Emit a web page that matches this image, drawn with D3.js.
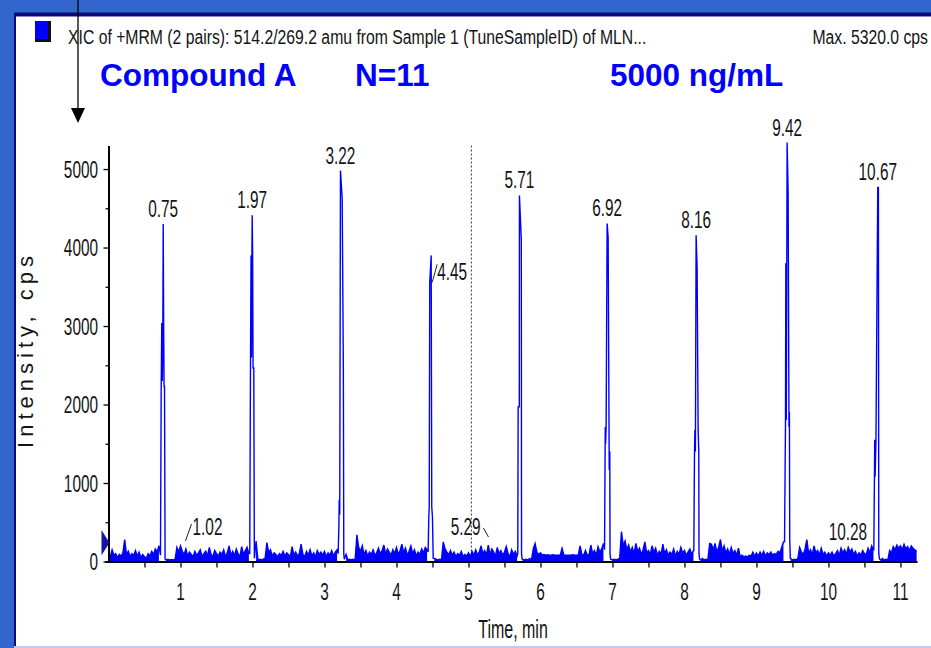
<!DOCTYPE html>
<html>
<head>
<meta charset="utf-8">
<script src="https://cdn.jsdelivr.net/npm/d3@7"></script>
<style>
  html, body { margin: 0; padding: 0; background: #3366cc; overflow: hidden; }
  svg { display: block; }
  text { font-family: "Liberation Sans", Arial, sans-serif; fill: #141414; }
</style>
</head>
<body>
<svg id="chart" width="931" height="648"></svg>
<script>
// noise between the peaks, one array per minute, one value every 0.025 min (null = peak there)
const noiseStep = 0.025;
const noiseMin0 = [120,60,150,80,100,50,90,70,110,280,90,130,60,100,80,140,70,120,50,90,60,40,100,70,130,90,160,120,200,80,null,null,20,30,20,25,20,30,180,120];
const noiseMin1 = [200,130,90,160,70,120,90,60,130,80,110,150,60,100,130,70,180,90,60,140,100,70,120,90,150,60,110,200,80,130,70,160,100,60,190,90,140,180,100,null];
const noiseMin2 = [null,null,260,20,30,20,30,40,240,120,150,70,110,90,60,100,80,130,70,110,90,60,190,80,120,70,100,220,90,60,130,80,150,70,110,60,140,90,120,80];
const noiseMin3 = [130,60,110,80,140,70,120,150,null,null,null,40,90,20,30,20,30,20,340,180,130,200,90,140,70,120,90,150,80,110,170,100,140,210,90,160,120,80,150,100];
const noiseMin4 = [180,90,140,220,110,170,80,130,200,100,150,70,120,90,160,110,180,150,null,null,null,40,30,20,30,20,250,160,120,90,140,80,120,60,100,80,130,60,90,70];
const noiseMin5 = [110,60,130,80,150,90,120,200,100,140,80,210,90,160,120,70,180,100,140,80,120,190,100,60,150,90,130,70,null,null,30,20,30,20,40,20,160,230,120,90];
const noiseMin6 = [110,80,90,80,85,80,80,85,80,80,80,80,170,85,80,80,80,80,85,80,80,80,200,90,80,140,80,90,210,100,140,80,190,120,160,230,null,null,null,30];
const noiseMin7 = [20,30,20,30,40,380,200,260,150,210,120,180,100,230,130,170,90,150,250,110,140,90,200,120,170,80,130,90,220,100,150,80,120,90,160,70,130,90,180,110];
const noiseMin8 = [140,80,120,160,90,140,null,null,null,20,40,20,30,20,230,220,150,230,120,180,280,130,200,110,160,90,180,100,140,80,170,60,80,60,70,60,80,70,120,70];
const noiseMin9 = [110,70,120,80,130,70,110,90,120,80,100,90,130,110,180,250,null,null,null,40,20,30,20,40,180,120,90,160,280,100,150,90,200,110,140,80,170,90,120,70];
const noiseMin10 = [110,80,120,70,100,140,80,170,110,150,90,180,120,160,90,130,70,110,80,140,100,90,170,110,200,150,null,null,null,20,40,20,30,20,140,110,190,150,210,170];
const noiseMin11 = [200,150,220,160,190,140,200,170,150,130];

// peaks: [time, intensity] points
const peak075 = [[0.722,80],[0.732,2230],[0.740,3040],[0.748,2300],[0.755,3000],[0.760,4300],[0.766,3040],[0.772,2230],[0.778,2230],[0.786,30]];
const peak197 = [[1.962,100],[1.972,2465],[1.980,3900],[1.986,2600],[1.992,3900],[1.996,4410],[2.002,3900],[2.008,2465],[2.018,2465],[2.026,40]];
const peak322 = [[3.190,100],[3.200,445],[3.205,788],[3.212,600],[3.222,4980],[3.246,4625],[3.262,2465],[3.268,100],[3.275,30]];
const peak445 = [[4.440,120],[4.449,570],[4.455,700],[4.462,3545],[4.482,3900],[4.490,700],[4.500,560],[4.510,40]];
const peak571 = [[5.685,100],[5.690,1970],[5.706,1970],[5.708,4663],[5.734,4090],[5.737,100],[5.745,30]];
const peak692 = [[6.890,150],[6.900,1715],[6.905,1500],[6.912,1715],[6.926,4307],[6.940,4130],[6.955,1170],[6.963,1400],[6.966,100],[6.975,30]];
const peak816 = [[8.130,130],[8.139,1334],[8.145,1677],[8.152,1400],[8.162,4155],[8.176,3735],[8.190,1677],[8.199,1400],[8.202,100],[8.210,30]];
const peak942 = [[9.390,250],[9.403,1715],[9.408,3800],[9.415,1800],[9.426,5337],[9.440,4700],[9.452,1715],[9.458,1900],[9.462,300],[9.470,40]];
const peak1067 = [[10.630,150],[10.639,1080],[10.643,1550],[10.648,1080],[10.660,1550],[10.685,4765],[10.694,4765],[10.699,100],[10.710,30]];
const peakLabels = ["0.75","1.97","3.22","4.45","5.71","6.92","8.16","9.42","10.67"];

// small labelled bumps: label text, label centre time, baseline intensity, leader [t,v] pairs
const minorLabels = ["1.02","5.29","10.28"];
const minorLabelT = [1.375, 4.96, 10.27];
const minorLabelV = [338, 338, 274];
const minorLeaders = [[[1.069,261],[1.153,478]], [[5.208,427],[5.278,312]], null];

const yTicks = [0,1000,2000,3000,4000,5000];
const yMinor = [500,1500,2500,3500,4500];
const xTicks = [1,2,3,4,5,6,7,8,9,10,11];
const xMinor = [0.5,1.5,2.5,3.5,4.5,5.5,6.5,7.5,8.5,9.5,10.5];
const cursorTime = 5.04;

const svg = d3.select("#chart");

// slide frame
svg.append("rect").attr("x",0).attr("y",0).attr("width",931).attr("height",648).attr("fill","#3366cc");
svg.append("rect").attr("x",14).attr("y",12.5).attr("width",917).attr("height",636).attr("fill","#0c0c78");
svg.append("rect").attr("x",16).attr("y",16.5).attr("width",915).attr("height",629.5).attr("fill","#ffffff");
svg.append("rect").attr("x",14).attr("y",646).attr("width",917).attr("height",2).attr("fill","#c4c8ee");

function addText(parent, px, py, str, size, k, anchor) {
  return parent.append("text")
    .attr("transform", `translate(${px},${py}) scale(${k},1)`)
    .attr("text-anchor", anchor || "start")
    .style("font-size", size + "px")
    .text(str);
}

// header
svg.append("rect").attr("x",35).attr("y",21).attr("width",16).attr("height",21).attr("fill","#111");
svg.append("rect").attr("x",35).attr("y",21).attr("width",13).attr("height",18).attr("fill","#0000ff");
const title = svg.append("text").attr("x",0).attr("y",0).style("font-size","21px")
  .text("XIC of +MRM (2 pairs): 514.2/269.2 amu from Sample 1 (TuneSampleID) of MLN...");
const titleK = 579 / title.node().getComputedTextLength();
title.attr("transform", `translate(68,44) scale(${titleK},1)`);
addText(svg, 928, 44, "Max. 5320.0 cps", 21, titleK, "end");

const big = svg.append("g").style("font-weight","bold");
[["Compound A",100],["N=11",355],["5000 ng/mL",610]].forEach(([s,px]) => {
  big.append("text").attr("x",px).attr("y",86).style("font-size","31.5px").style("fill","#0000ff").text(s);
});

// arrow
svg.append("line").attr("x1",78).attr("x2",78).attr("y1",0).attr("y2",110).attr("stroke","#000").attr("stroke-width",1.3);
svg.append("path").attr("d","M71,108L85,108L78,123Z").attr("fill","#000");

// scales
const x = d3.scaleLinear().domain([-0.05, 11.23]).range([104.9, 917]);
const y = d3.scaleLinear().domain([0, 5300]).range([561.5, 145.5]);

// cursor line
svg.append("line").attr("x1",x(cursorTime)).attr("x2",x(cursorTime)).attr("y1",y(5300)).attr("y2",y(0))
  .attr("stroke","#333").attr("stroke-width",1).attr("stroke-dasharray","2,2");

// trace
const noiseMins = [noiseMin0,noiseMin1,noiseMin2,noiseMin3,noiseMin4,noiseMin5,noiseMin6,noiseMin7,noiseMin8,noiseMin9,noiseMin10,noiseMin11];
const peaks = [peak075,peak197,peak322,peak445,peak571,peak692,peak816,peak942,peak1067];
const noisePts = [];
noiseMins.forEach((arr, m) => arr.forEach((v, i) => noisePts.push([m + i * noiseStep, v])));
const inPeak = t => peaks.some(p => t >= p[0][0] - 0.004 && t <= p[p.length - 1][0] + 0.004);
const okNoise = d => d[1] !== null && !inPeak(d[0]);
const trace = noisePts.filter(okNoise).concat(...peaks).sort((a, b) => a[0] - b[0]);

svg.append("path").datum(noisePts)
  .attr("d", d3.area().defined(okNoise).x(d => x(d[0])).y0(y(0)).y1(d => y(d[1])))
  .attr("fill","#0000ff");
svg.append("path").datum(trace)
  .attr("d", d3.line().x(d => x(d[0])).y(d => y(d[1])))
  .attr("fill","none").attr("stroke","#0000ff").attr("stroke-width",1.4);

// axes
const axisStyle = g => {
  g.selectAll("path.domain").attr("stroke","#000").attr("stroke-width",2);
  g.selectAll(".tick line").attr("stroke","#000").attr("stroke-width",1.3);
};
svg.append("g").attr("transform",`translate(0,${y(0)})`)
  .call(d3.axisBottom(x).tickValues(xTicks.concat(xMinor)).tickSize(6).tickSizeOuter(0).tickFormat(""))
  .call(axisStyle);
svg.append("g").attr("transform",`translate(${x(0)},0)`)
  .call(d3.axisLeft(y).tickValues(yTicks).tickSize(5).tickSizeOuter(0).tickFormat(""))
  .call(axisStyle);
svg.append("g").attr("transform",`translate(${x(0)},0)`)
  .call(d3.axisLeft(y).tickValues(yMinor).tickSize(3).tickSizeOuter(0).tickFormat(""))
  .call(g => g.select("path.domain").remove())
  .call(axisStyle);

// start marker
svg.append("path")
  .attr("d", `M${x(0) - 7},${y(400)}L${x(0) + 1},${y(240)}L${x(0) - 7},${y(80)}Z`)
  .attr("fill","#1414a8");

const labels = svg.append("g");
yTicks.forEach(v => addText(labels, 98, y(v) + 8.5, String(v), 24, 0.64, "end"));
xTicks.forEach(t => addText(labels, x(t), y(0) + 38.5, String(t), 24, 0.64, "middle"));
addText(labels, 513, 638, "Time, min", 25, 0.64, "middle");
labels.append("text")
  .attr("transform","translate(33,352) rotate(-90)")
  .attr("text-anchor","middle")
  .attr("textLength",192).attr("lengthAdjust","spacing")
  .style("font-size","22px")
  .text("Intensity, cps");

// peak labels
peaks.forEach((p, i) => {
  const apex = p.reduce((a, b) => (b[1] > a[1] ? b : a));
  if (peakLabels[i] === "4.45") {
    labels.append("line").attr("x1",x(apex[0]) + 1).attr("y1",y(apex[1]) + 27)
      .attr("x2",x(apex[0]) + 6).attr("y2",y(apex[1]) + 9).attr("stroke","#222").attr("stroke-width",1);
    addText(labels, x(apex[0]) + 6, y(apex[1]) + 25, peakLabels[i], 24, 0.64, "start");
  } else {
    addText(labels, x(apex[0]), y(apex[1]) - 7, peakLabels[i], 24, 0.64, "middle");
  }
});

// minor labels
minorLabels.forEach((s, i) => {
  addText(labels, x(minorLabelT[i]), y(minorLabelV[i]), s, 24, 0.64, "middle");
  const l = minorLeaders[i];
  if (l) {
    labels.append("line").attr("x1",x(l[0][0])).attr("y1",y(l[0][1]))
      .attr("x2",x(l[1][0])).attr("y2",y(l[1][1])).attr("stroke","#222").attr("stroke-width",1);
  }
});
</script>
</body>
</html>
